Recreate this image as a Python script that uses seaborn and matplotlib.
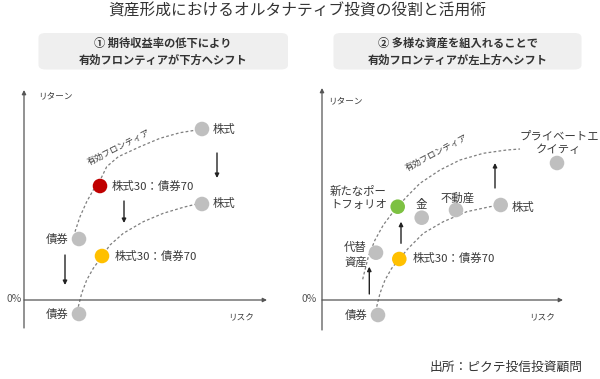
import numpy as np
import pandas as pd
import matplotlib
matplotlib.use("Agg")
import matplotlib.pyplot as plt
from matplotlib.patches import FancyBboxPatch
import seaborn as sns

sns.set_theme(style="white")
plt.rcParams["font.family"] = ["Noto Sans CJK JP", "DejaVu Sans"]

# ---------------- data ----------------
title = "資産形成におけるオルタナティブ投資の役割と活用術"
source = "出所：ピクテ投信投資顧問"
box_left = "① 期待収益率の低下により\n有効フロンティアが下方へシフト"
box_right = "② 多様な資産を組入れることで\n有効フロンティアが左上方へシフト"

# left panel assets
L_labels = ["株式", "株式30：債券70", "株式", "債券", "株式30：債券70", "債券"]
L_risk = [17.8, 7.6, 17.8, 5.5, 7.8, 5.5]
L_ret = [17.1, 11.4, 9.6, 6.1, 4.4, -1.4]
L_kind = ["asset", "old", "asset", "asset", "base", "asset"]

# left panel frontiers
L_up_risk = [5.1, 5.6, 6.27, 6.93, 7.53, 8.27, 9.43, 11.6, 13.6, 15.6, 17.27]
L_up_ret = [6.83, 8.33, 9.83, 11.0, 11.8, 13.33, 14.33, 15.33, 16.17, 16.73, 17.0]
L_lo_risk = [5.43, 5.77, 6.27, 6.93, 7.77, 8.6, 9.93, 11.93, 13.93, 15.93, 17.27]
L_lo_ret = [-0.67, 0.67, 2.0, 3.17, 4.33, 5.5, 6.67, 7.83, 8.67, 9.27, 9.6]

# left panel shift arrows (risk, return from, return to)
L_arr_risk = [19.3, 10.0, 4.1]
L_arr_from = [14.7, 9.9, 4.5]
L_arr_to = [12.2, 7.7, 1.5]

# right panel assets
R_labels = ["プライベートエ\nクイティ", "株式", "不動産", "金", "新たなポー\nトフォリオ",
            "代替\n資産", "株式30：債券70", "債券"]
R_risk = [23.5, 17.87, 13.4, 9.97, 7.57, 5.4, 7.73, 5.6]
R_ret = [13.7, 9.5, 9.0, 8.23, 9.33, 4.73, 4.1, -1.5]
R_kind = ["asset", "asset", "asset", "asset", "new", "asset", "base", "asset"]

# right panel frontiers
R_up_risk = [4.07, 4.13, 4.63, 5.3, 6.13, 7.13, 8.47, 9.8, 11.8, 13.8, 16.13, 18.47, 19.8]
R_up_ret = [2.07, 2.33, 4.33, 6.0, 7.5, 8.83, 10.33, 11.67, 13.0, 14.0, 14.67, 15.0, 15.1]
R_lo_risk = [5.47, 5.8, 6.3, 6.97, 7.73, 8.63, 10.13, 12.13, 14.47, 16.8, 17.8]
R_lo_ret = [-0.67, 0.67, 2.0, 3.17, 4.1, 5.17, 6.67, 7.83, 8.83, 9.33, 9.5]

# right panel shift arrows
R_arr_risk = [17.3, 7.9, 4.73]
R_arr_from = [11.2, 5.67, 0.6]
R_arr_to = [13.7, 7.83, 3.33]

palette = {"asset": "#bfbfbf", "old": "#c00000", "base": "#ffc000", "new": "#7dc142"}
TXT = "#3a3a3a"
AX = "#555555"
FS = 8.2

fig = plt.figure(figsize=(6.0, 3.79), dpi=100)
W, H = 600, 379


def fx(px):
    return px / W


def fy(py):
    return 1 - py / H


# title, source
fig.text(fx(297), fy(11), title, ha="center", va="center", fontsize=11.3, color="#333333")
fig.text(fx(583), fy(367), source, ha="right", va="center", fontsize=9.2, color="#333333")

# header boxes
for (x0, x1), txt in [((38.5, 288), box_left), ((333.5, 581.5), box_right)]:
    box = FancyBboxPatch((fx(x0), fy(69.5)), fx(x1 - x0), (69.5 - 33) / H,
                         boxstyle="round,pad=0,rounding_size=0.012",
                         transform=fig.transFigure, facecolor="#efefef",
                         edgecolor="none", zorder=0)
    fig.patches.append(box)
    fig.text(fx((x0 + x1) / 2), fy(52), txt, ha="center", va="center", fontsize=8.1,
             fontweight="bold", color="#333333", linespacing=1.4)


def make_axes(left_px, width_px, xlim):
    ax = fig.add_axes([fx(left_px), fy(335), fx(width_px), 250 / H])
    ax.set_xlim(*xlim)
    ax.set_ylim(-3.5, 21.5)
    ax.axis("off")
    return ax


axL = make_axes(0, 290, (-2.4, 26.6))
axR = make_axes(298, 302, (-2.4, 27.8))


def draw_axes(ax, ytop, ybot, xend):
    ax.annotate("", xy=(0, ytop), xytext=(0, ybot),
                arrowprops=dict(arrowstyle="-|>", color=AX, lw=0.9, mutation_scale=6,
                                shrinkA=0, shrinkB=0))
    ax.annotate("", xy=(xend, 0), xytext=(0, 0),
                arrowprops=dict(arrowstyle="-|>", color=AX, lw=0.9, mutation_scale=6,
                                shrinkA=0, shrinkB=0))


draw_axes(axL, 21.0, -2.8, 24.3)
draw_axes(axR, 21.2, -3.0, 24.1)

dash = (0, (2.2, 1.8))
for ax, ups, los in [(axL, (L_up_risk, L_up_ret), (L_lo_risk, L_lo_ret)),
                     (axR, (R_up_risk, R_up_ret), (R_lo_risk, R_lo_ret))]:
    ax.plot(ups[0], ups[1], color="#7f7f7f", lw=0.9, ls=dash, zorder=1)
    ax.plot(los[0], los[1], color="#7f7f7f", lw=0.9, ls=dash, zorder=1)

dfL = pd.DataFrame({"risk": L_risk, "ret": L_ret, "kind": L_kind})
dfR = pd.DataFrame({"risk": R_risk, "ret": R_ret, "kind": R_kind})
for ax, df in [(axL, dfL), (axR, dfR)]:
    sns.scatterplot(data=df, x="risk", y="ret", hue="kind", palette=palette, s=110,
                    edgecolor="none", legend=False, ax=ax, zorder=3)
    ax.axis("off")

# shift arrows
for ax, xs, y0s, y1s in [(axL, L_arr_risk, L_arr_from, L_arr_to),
                         (axR, R_arr_risk, R_arr_from, R_arr_to)]:
    for x, y0, y1 in zip(xs, y0s, y1s):
        ax.annotate("", xy=(x, y1), xytext=(x, y0),
                    arrowprops=dict(arrowstyle="-|>", color="#222222", lw=1.0,
                                    mutation_scale=6, shrinkA=0, shrinkB=0))

# point labels: (dx, dy pixels, ha)
L_offs = [(11, 0, "left"), (12, 0, "left"), (11, 0, "left"), (-10, 0, "right"),
          (13, 0, "left"), (-10, 0, "right")]
R_offs = [(2, 20, "center"), (11, -3, "left"), (2, 12, "center"), (0, 13, "center"),
          (-11, 9, "right"), (-9, -2, "right"), (13, 1, "left"), (-10, 0, "right")]
for ax, labs, xs, ys, offs in [(axL, L_labels, L_risk, L_ret, L_offs),
                               (axR, R_labels, R_risk, R_ret, R_offs)]:
    for lab, x, y, (dx, dy, ha) in zip(labs, xs, ys, offs):
        ax.annotate(lab, xy=(x, y), xytext=(dx, dy), textcoords="offset pixels",
                    ha=ha, va="center", fontsize=FS, color=TXT, linespacing=1.4,
                    annotation_clip=False)

# axis texts
for ax, rx, rety, sx in [(axL, 1.4, 20.4, 21.7), (axR, 0.6, 19.9, 22.0)]:
    ax.text(rx, rety, "リターン", ha="left", va="center", fontsize=6.2, color=TXT)
    ax.text(sx, -1.73, "リスク", ha="center", va="center", fontsize=6.2, color=TXT)
axL.text(-0.2, 0.1, "0%", ha="right", va="center", fontsize=7.5, color="#555555")
axR.text(-0.5, 0.1, "0%", ha="right", va="center", fontsize=7.5, color="#555555")

# frontier labels (sitting just above the curves)
axL.text(9.5, 15.3, "有効フロンティア", rotation=27, ha="center", va="center",
         fontsize=6.2, color=TXT, rotation_mode="anchor")
axR.text(11.4, 14.75, "有効フロンティア", rotation=28, ha="center", va="center",
         fontsize=6.2, color=TXT, rotation_mode="anchor")

fig.savefig("out.png", dpi=100)
